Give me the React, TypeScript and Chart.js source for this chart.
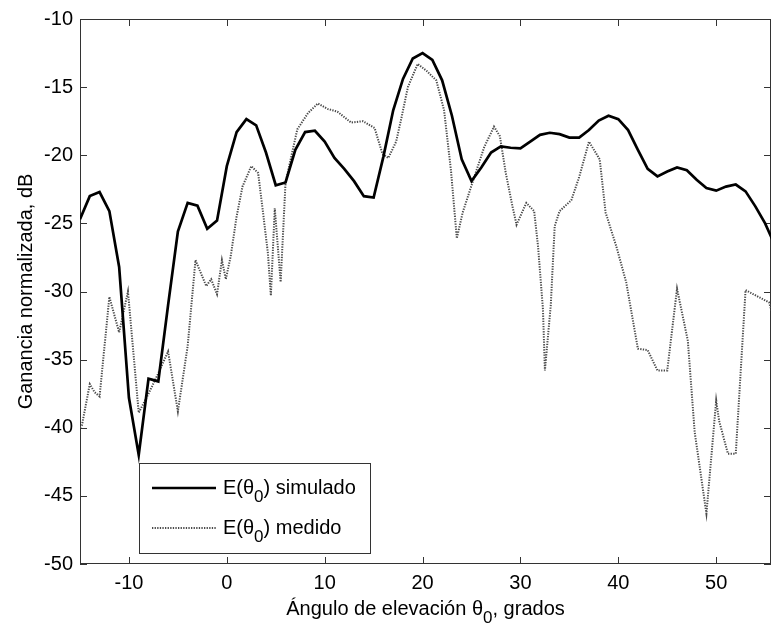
import React, { useEffect, useRef } from "react";
import { Chart, registerables } from "chart.js";

Chart.register(...registerables);

// ---- Data ----
const simX = [
  -15, -14, -13, -12, -11, -10, -9, -8, -7, -6, -5, -4, -3, -2, -1, 0, 1, 2, 3, 4, 5, 6, 7, 8, 9,
  10, 11, 12, 13, 14, 15, 16, 17, 18, 19, 20, 21, 22, 23, 24, 25, 26, 27, 28, 29, 30, 31, 32, 33,
  34, 35, 36, 37, 38, 39, 40, 41, 42, 43, 44, 45, 46, 47, 48, 49, 50, 51, 52, 53, 54, 55, 56,
];
const simY = [
  -24.7, -23.0, -22.7, -24.1, -28.2, -37.8, -42.0, -36.4, -36.6, -31.0, -25.6, -23.5, -23.7, -25.4,
  -24.8, -20.8, -18.3, -17.35, -17.8, -19.8, -22.2, -22.0, -19.6, -18.3, -18.2, -19.0, -20.2, -21.0,
  -21.9, -23.0, -23.1, -20.1, -16.7, -14.4, -12.9, -12.5, -13.0, -14.5, -17.1, -20.3, -21.9, -20.9,
  -19.8, -19.35, -19.45, -19.5, -19.0, -18.5, -18.35, -18.45, -18.7, -18.7, -18.15, -17.45, -17.1,
  -17.35, -18.15, -19.6, -21.0, -21.55, -21.2, -20.9, -21.1, -21.8, -22.4, -22.6, -22.3, -22.15,
  -22.65, -23.75, -25.0, -26.6,
];
const measX = [
  -15, -14.8, -14, -13.5, -13, -12, -11, -10.1, -9, -8, -7, -6, -5, -4, -3.2, -2.1, -1.6, -1, -0.5,
  -0.1, 0.4, 1, 1.6, 2.5, 3.2, 3.7, 4.2, 4.5, 4.9, 5.5, 6, 7.2, 8.3, 9.3, 10.3, 11.3, 12.7, 13.9,
  15.1, 15.9, 16.5, 17.3, 17.8, 18.5, 19.5, 20.4, 21.4, 22.2, 22.9, 23.5, 24.1, 25.1, 26.3, 27.3,
  27.9, 28.5, 29.2, 29.6, 30.6, 31.4, 31.8, 32.3, 32.5, 33.1, 33.5, 34, 35.2, 36, 37, 38.1, 38.7,
  39.8, 40.8, 42, 43, 44, 45, 46, 47.1, 47.8, 49, 50, 50.3, 51.2, 52, 53, 55.4, 56,
];
const measY = [
  -40.0, -39.8, -36.8, -37.4, -37.7, -30.4, -33.0, -30.0, -38.9, -37.5, -36.0, -34.4, -38.8, -34.0,
  -27.7, -29.6, -29.1, -30.2, -27.7, -29.1, -27.4, -24.5, -22.3, -20.8, -21.3, -24.2, -27.2, -30.3,
  -23.9, -29.3, -22.0, -18.1, -16.9, -16.2, -16.6, -16.8, -17.6, -17.5, -18.0, -19.9, -20.2, -19.0,
  -17.4, -15.0, -13.3, -13.8, -14.5, -16.7, -21.1, -26.1, -24.2, -22.0, -19.4, -17.9, -18.6, -21.3,
  -23.8, -25.1, -23.5, -24.1, -26.7, -31.3, -35.8, -31.0, -25.2, -24.1, -23.3, -21.6, -19.0, -20.3,
  -24.2, -26.7, -29.3, -34.2, -34.3, -35.8, -35.8, -29.8, -33.6, -40.3, -46.3, -38.0, -39.5, -41.9,
  -41.9, -29.9, -30.8, -32.2,
];
const seriesLabels = ["E(θ₀) simulado", "E(θ₀) medido"];
const xTickValues = [-10, 0, 10, 20, 30, 40, 50];
const yTickValues = [-50, -45, -40, -35, -30, -25, -20, -15, -10];
const xTitle = "Ángulo de elevación θ₀, grados";
const yTitle = "Ganancia normalizada, dB";

const FONT = "'Liberation Sans', Arial, Helvetica, sans-serif";
const AXIS_COLOR = "#333";

// Draws text where "₀" is rendered as a lowered, slightly smaller "0"
function drawSubText(ctx: any, text: string, x: number, base: number, align: "left" | "center") {
  const parts = text.split("₀");
  const main = `20px ${FONT}`;
  const sub = `17px ${FONT}`;
  ctx.font = main;
  const w0 = ctx.measureText(parts[0]).width;
  const w2 = parts.length > 1 ? ctx.measureText(parts[1]).width : 0;
  ctx.font = sub;
  const w1 = parts.length > 1 ? ctx.measureText("0").width : 0;
  let tx = align === "center" ? x - (w0 + w1 + w2) / 2 : x;
  ctx.textAlign = "left";
  ctx.textBaseline = "alphabetic";
  ctx.fillStyle = "#000";
  ctx.font = main;
  ctx.fillText(parts[0], tx, base);
  tx += w0;
  if (parts.length > 1) {
    ctx.font = sub;
    ctx.fillText("0", tx, base + 8);
    tx += w1;
    ctx.font = main;
    ctx.fillText(parts[1], tx, base);
  }
}

// Inward ticks on all four sides + box frame (MATLAB style)
const frameTicksPlugin = {
  id: "frameTicks",
  beforeDatasetsDraw(chart: any) {
    const { ctx, chartArea, scales } = chart;
    const { left, right, top, bottom } = chartArea;
    const len = 7;
    ctx.save();
    ctx.strokeStyle = AXIS_COLOR;
    ctx.lineWidth = 1;
    ctx.strokeRect(left + 0.5, top + 0.5, right - left - 1, bottom - top - 1);
    ctx.beginPath();
    scales.x.ticks.forEach((t: any) => {
      const px = Math.round(scales.x.getPixelForValue(t.value)) + 0.5;
      ctx.moveTo(px, bottom);
      ctx.lineTo(px, bottom - len);
      ctx.moveTo(px, top);
      ctx.lineTo(px, top + len);
    });
    scales.y.ticks.forEach((t: any) => {
      const py = Math.round(scales.y.getPixelForValue(t.value)) + 0.5;
      ctx.moveTo(left, py);
      ctx.lineTo(left + len, py);
      ctx.moveTo(right, py);
      ctx.lineTo(right - len, py);
    });
    ctx.stroke();
    ctx.restore();
  },
  afterDraw(chart: any) {
    const { ctx, chartArea } = chart;
    ctx.save();
    drawSubText(ctx, xTitle, (chartArea.left + chartArea.right) / 2, chartArea.bottom + 51, "center");
    ctx.restore();
  },
};

// Legend box inside plot (lower-left), with real subscripts
const legendPlugin = {
  id: "matlabLegend",
  afterDraw(chart: any) {
    const { ctx, chartArea } = chart;
    const bx = chartArea.left + 59;
    const by = chartArea.bottom - 101;
    const bw = 231;
    const bh = 90;
    ctx.save();
    ctx.fillStyle = "#fff";
    ctx.fillRect(bx, by, bw, bh);
    ctx.strokeStyle = AXIS_COLOR;
    ctx.lineWidth = 1;
    ctx.strokeRect(bx + 0.5, by + 0.5, bw, bh);
    chart.data.datasets.forEach((ds: any, i: number) => {
      const ly = by + 25 + i * 40;
      ctx.save();
      ctx.strokeStyle = ds.borderColor;
      ctx.lineWidth = ds.borderWidth;
      ctx.setLineDash(ds.borderDash || []);
      ctx.beginPath();
      ctx.moveTo(bx + 13, ly);
      ctx.lineTo(bx + 77, ly);
      ctx.stroke();
      ctx.restore();
      drawSubText(ctx, String(ds.label), bx + 84, ly + 6, "left");
    });
    ctx.restore();
  },
};

export default function App() {
  const canvasRef = useRef<HTMLCanvasElement | null>(null);

  useEffect(() => {
    if (!canvasRef.current) return;
    Chart.defaults.font.family = FONT;
    Chart.defaults.font.size = 20;
    Chart.defaults.color = "#000";

    const chart = new Chart(canvasRef.current, {
      type: "line",
      data: {
        datasets: [
          {
            label: seriesLabels[0],
            data: simX.map((x, i) => ({ x, y: simY[i] })),
            borderColor: "#000",
            borderWidth: 2.7,
            pointRadius: 0,
            tension: 0,
            fill: false,
          },
          {
            label: seriesLabels[1],
            data: measX.map((x, i) => ({ x, y: measY[i] })),
            borderColor: "#4a4a4a",
            borderWidth: 2,
            borderDash: [1.3, 1.3],
            pointRadius: 0,
            tension: 0,
            fill: false,
          },
        ],
      },
      options: {
        responsive: false,
        animation: false,
        layout: { padding: { top: 15, right: 1, left: 0, bottom: 0 } },
        plugins: {
          legend: { display: false },
          tooltip: { enabled: false },
        },
        scales: {
          x: {
            type: "linear",
            min: -15,
            max: 55.6,
            afterBuildTicks: (scale: any) => {
              scale.ticks = xTickValues.map((v) => ({ value: v }));
            },
            afterFit: (scale: any) => {
              scale.height = 67;
            },
            grid: { display: false, drawTicks: false },
            border: { display: false },
            ticks: { padding: 7, maxRotation: 0, autoSkip: false, color: "#000", font: { size: 20 } },
            title: { display: false, text: xTitle },
          },
          y: {
            type: "linear",
            min: -50,
            max: -10,
            afterBuildTicks: (scale: any) => {
              scale.ticks = yTickValues.map((v) => ({ value: v }));
            },
            afterFit: (scale: any) => {
              scale.width = 80;
            },
            grid: { display: false, drawTicks: false },
            border: { display: false },
            ticks: { padding: 7, autoSkip: false, color: "#000", font: { size: 20 } },
            title: {
              display: true,
              text: yTitle,
              color: "#000",
              font: { size: 20 },
              padding: { top: 14, bottom: 0 },
            },
          },
        },
      },
      plugins: [frameTicksPlugin, legendPlugin],
    } as any);

    return () => chart.destroy();
  }, []);

  return (
    <div style={{ position: "absolute", left: 0, top: 0, width: 772, height: 631, background: "#fff" }}>
      <canvas ref={canvasRef} width={772} height={631} style={{ display: "block" }} />
    </div>
  );
}
